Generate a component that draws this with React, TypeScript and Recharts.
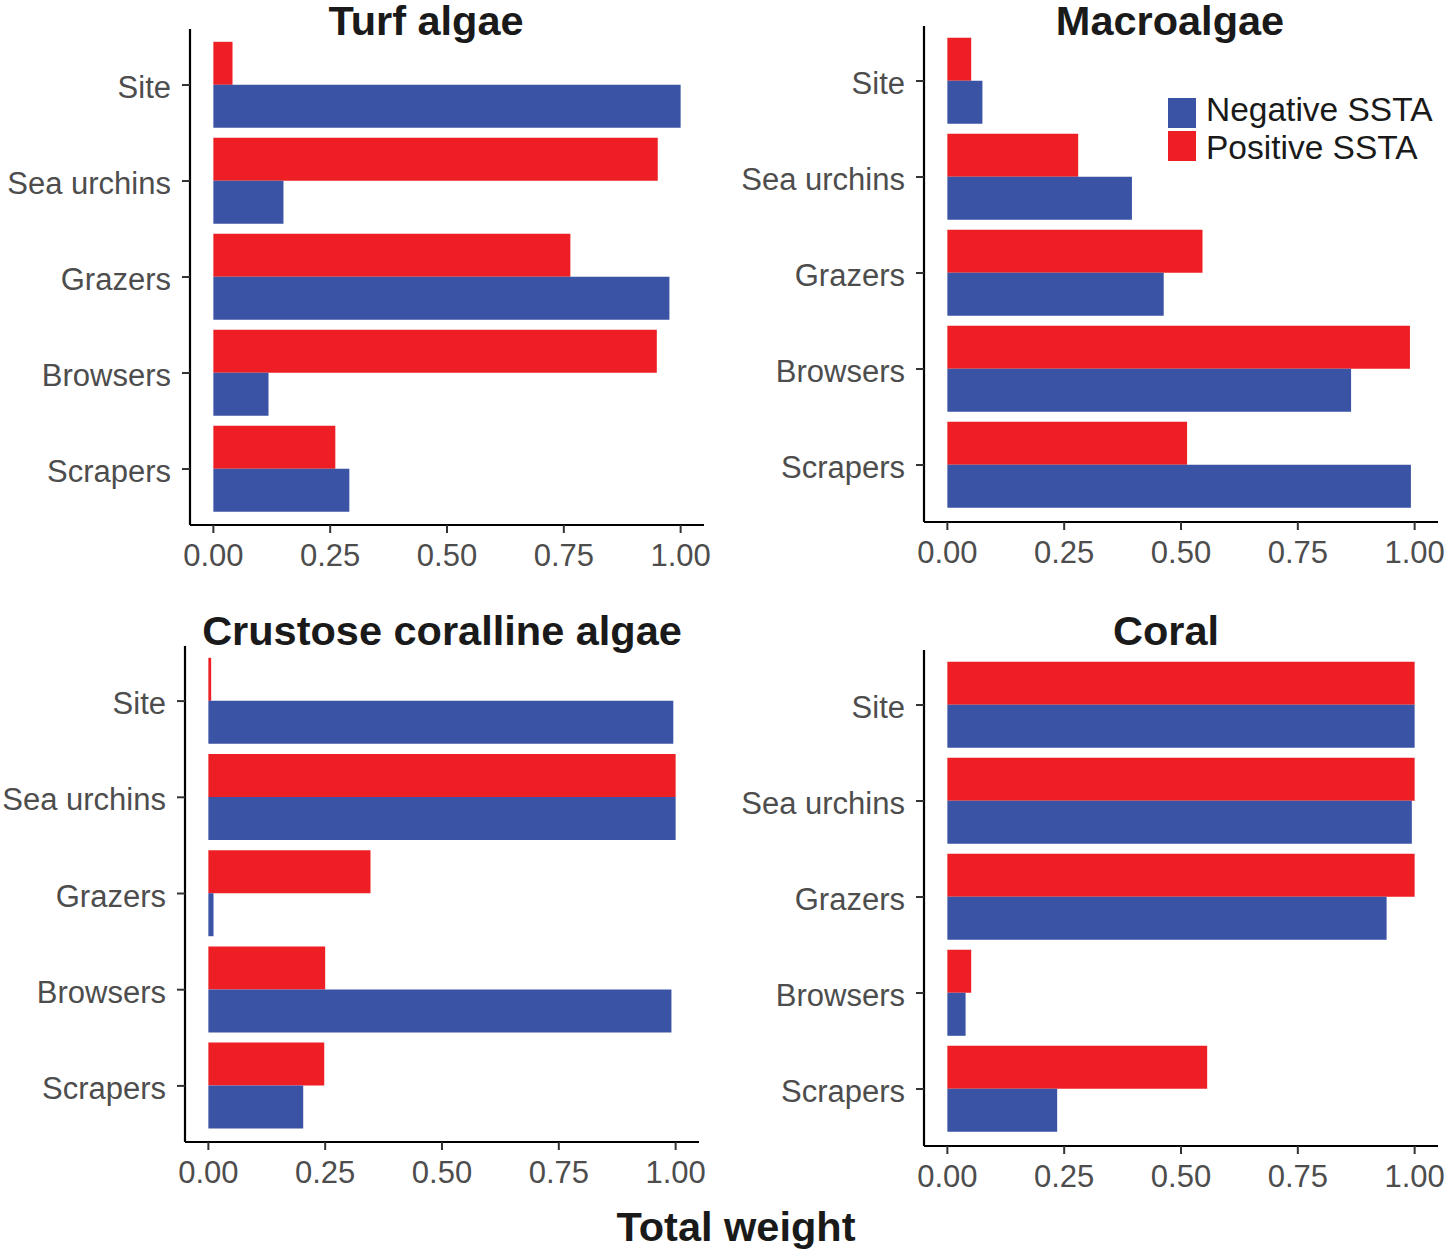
import React from 'react';
import { BarChart, Bar, XAxis, YAxis } from 'recharts';

const categories: string[] = ['Site', 'Sea urchins', 'Grazers', 'Browsers', 'Scrapers'];
const seriesNames: string[] = ['Negative SSTA', 'Positive SSTA'];
const xTicks: number[] = [0, 0.25, 0.5, 0.75, 1];

const turfNegative: number[] = [1.0, 0.15, 0.976, 0.118, 0.291];
const turfPositive: number[] = [0.041, 0.951, 0.764, 0.949, 0.261];

const macroNegative: number[] = [0.075, 0.395, 0.463, 0.864, 0.992];
const macroPositive: number[] = [0.051, 0.28, 0.546, 0.99, 0.513];

const ccaNegative: number[] = [0.995, 1.0, 0.011, 0.991, 0.203];
const ccaPositive: number[] = [0.006, 1.0, 0.347, 0.25, 0.248];

const coralNegative: number[] = [1.0, 0.994, 0.94, 0.039, 0.235];
const coralPositive: number[] = [1.0, 1.0, 1.0, 0.051, 0.556];

const FONT = '"Liberation Sans", Arial, Helvetica, sans-serif';
const BLUE = '#3A53A5';
const RED = '#ED1F24';
const seriesColors = [BLUE, RED];

interface Row {
  name: string;
  negative: number;
  positive: number;
}

const buildRows = (negative: number[], positive: number[]): Row[] =>
  categories.map((name, i) => ({ name, negative: negative[i], positive: positive[i] }));

interface PanelProps {
  title: string;
  titleX: number;
  titleTop: number;
  axisX: number;
  plotTop: number;
  negative: number[];
  positive: number[];
  padTop: number;
  padBottom: number;
}

const tickStyle = { fill: '#4d4d4d', fontSize: 31, fontFamily: FONT };

const Panel: React.FC<PanelProps> = ({ title, titleX, titleTop, axisX, plotTop, negative, positive, padTop, padBottom }) => {
  const rows = buildRows(negative, positive);
  return (
    <>
      <div
        style={{
          position: 'absolute',
          left: titleX - 300,
          width: 600,
          top: titleTop,
          textAlign: 'center',
          fontSize: 41.5,
          lineHeight: '40px',
          fontWeight: 'bold',
          color: '#1a1a1a',
        }}
      >
        {title}
      </div>
      <div style={{ position: 'absolute', left: axisX - 190, top: plotTop - 29 }}>
        <BarChart
          width={712}
          height={590}
          data={rows}
          layout="vertical"
          margin={{ top: 29, right: 8, bottom: 0, left: 0 }}
          barCategoryGap="5%"
          barGap={0}
        >
          <XAxis
            type="number"
            domain={[-0.05, 1.05]}
            ticks={xTicks}
            interval={0}
            allowDataOverflow
            tickFormatter={(v: number) => v.toFixed(2)}
            axisLine={{ stroke: '#000', strokeWidth: 2.2 }}
            tickLine={{ stroke: '#333', strokeWidth: 2 }}
            tickSize={8}
            tickMargin={11}
            tick={tickStyle}
            height={65}
          />
          <YAxis
            type="category"
            dataKey="name"
            width={190}
            interval={0}
            padding={{ top: padTop, bottom: padBottom }}
            axisLine={{ stroke: '#000', strokeWidth: 2.2 }}
            tickLine={{ stroke: '#333', strokeWidth: 2 }}
            tickSize={8}
            tickMargin={11}
            tick={{ ...tickStyle, dy: 2 }}
          />
          <Bar dataKey="positive" name={seriesNames[1]} fill={RED} isAnimationActive={false} />
          <Bar dataKey="negative" name={seriesNames[0]} fill={BLUE} isAnimationActive={false} />
        </BarChart>
      </div>
    </>
  );
};

// legend rows: square top and text centre line, in page pixels
const legendSquareTops = [98, 131];
const legendTextCentres = [110, 148];

const App: React.FC = () => {
  return (
    <div
      style={{
        position: 'absolute',
        left: 0,
        top: 0,
        width: 1450,
        height: 1252,
        overflow: 'hidden',
        background: '#fff',
        fontFamily: FONT,
      }}
    >
      <Panel title="Turf algae" titleX={426} titleTop={1} axisX={190} plotTop={29} negative={turfNegative} positive={turfPositive} padTop={8} padBottom={8} />
      <Panel title="Macroalgae" titleX={1170} titleTop={1} axisX={924} plotTop={26} negative={macroNegative} positive={macroPositive} padTop={7} padBottom={9} />
      <Panel title="Crustose coralline algae" titleX={442} titleTop={611} axisX={185} plotTop={646} negative={ccaNegative} positive={ccaPositive} padTop={7} padBottom={8} />
      <Panel title="Coral" titleX={1166} titleTop={611} axisX={924} plotTop={650} negative={coralNegative} positive={coralPositive} padTop={7} padBottom={9} />

      {seriesNames.map((name, i) => (
        <React.Fragment key={name}>
          <div
            style={{
              position: 'absolute',
              left: 1168,
              top: legendSquareTops[i],
              width: 28,
              height: 30,
              background: seriesColors[i],
            }}
          />
          <div
            style={{
              position: 'absolute',
              left: 1206,
              top: legendTextCentres[i] - 20,
              height: 40,
              lineHeight: '40px',
              fontSize: 33.5,
              color: '#1a1a1a',
              whiteSpace: 'nowrap',
            }}
          >
            {name}
          </div>
        </React.Fragment>
      ))}

      <div
        style={{
          position: 'absolute',
          left: 436,
          width: 600,
          top: 1207,
          textAlign: 'center',
          fontSize: 41.5,
          lineHeight: '40px',
          fontWeight: 'bold',
          color: '#1a1a1a',
        }}
      >
        Total weight
      </div>
    </div>
  );
};

export default App;
